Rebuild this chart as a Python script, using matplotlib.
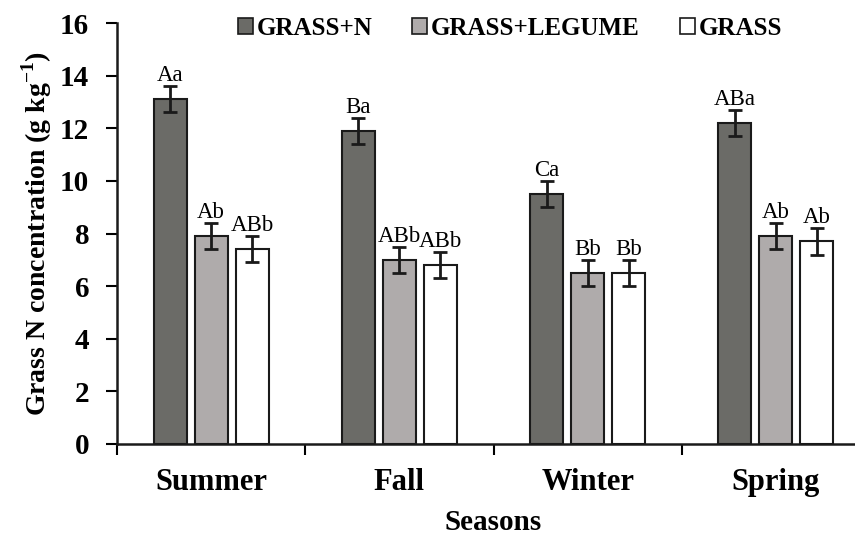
import matplotlib.pyplot as plt
from matplotlib.patches import Patch
import numpy as np

seasons = ['Summer', 'Fall', 'Winter', 'Spring']
treatments = ['GRASS+N', 'GRASS+LEGUME', 'GRASS']
grass_n = [13.1, 11.9, 9.5, 12.2]
grass_legume = [7.9, 7.0, 6.5, 7.9]
grass_only = [7.4, 6.8, 6.5, 7.7]
err_n = [0.5, 0.5, 0.5, 0.5]
err_legume = [0.5, 0.5, 0.5, 0.5]
err_grass = [0.5, 0.5, 0.5, 0.5]
lab_n = ['Aa', 'Ba', 'Ca', 'ABa']
lab_legume = ['Ab', 'ABb', 'Bb', 'Ab']
lab_grass = ['ABb', 'ABb', 'Bb', 'Ab']

plt.rcParams['font.family'] = 'Liberation Serif'
plt.rcParams['mathtext.fontset'] = 'custom'
plt.rcParams['mathtext.rm'] = 'Liberation Serif:bold'
plt.rcParams['mathtext.bf'] = 'Liberation Serif:bold'

fig = plt.figure(figsize=(8.55, 5.44), dpi=100)
ax = fig.add_axes([117/855, 100/544, 753/855, 421/544])

colors = ['#6b6b67', '#afabab', '#ffffff']
x = np.arange(len(seasons))
w = 0.175
off = 0.218
series = [(grass_n, err_n, lab_n), (grass_legume, err_legume, lab_legume), (grass_only, err_grass, lab_grass)]
for i, (vals, errs, labs) in enumerate(series):
    xs = x + (i - 1) * off
    ax.bar(xs, vals, width=w, color=colors[i], edgecolor='#1a1a1a', linewidth=1.5, zorder=2)
    ax.errorbar(xs, vals, yerr=errs, fmt='none', ecolor='#1a1a1a', elinewidth=2, capsize=5, capthick=2, zorder=3)
    for xx, v, e, t in zip(xs, vals, errs, labs):
        ax.annotate(t, (xx, v + e), xytext=(0, 0), textcoords='offset points',
                    ha='center', va='bottom', fontsize=16.5)

ax.set_xlim(-0.5, 3.5)
ax.set_ylim(0, 16)
ax.set_yticks(range(0, 17, 2))
ax.set_xticks([-0.5, 0.5, 1.5, 2.5, 3.5])
ax.set_xticklabels([])
ax.set_xticks(x, minor=True)
ax.set_xticklabels(seasons, minor=True)
ax.tick_params(axis='x', which='major', direction='out', length=8, width=1.5)
ax.tick_params(axis='x', which='minor', length=0, pad=17, labelsize=22)
ax.tick_params(axis='y', direction='out', length=8, width=1.5, labelsize=21, pad=12)
for lab in ax.get_xticklabels(minor=True) + ax.get_yticklabels():
    lab.set_fontweight('bold')
for s in ['top', 'right']:
    ax.spines[s].set_visible(False)
for s in ['left', 'bottom']:
    ax.spines[s].set_linewidth(1.8)
    ax.spines[s].set_color('#1a1a1a')

ax.set_ylabel('Grass N concentration (g kg$^{-1}$)', fontsize=20, fontweight='bold', labelpad=4)
fig.text(493/855, 21/544, 'Seasons', ha='center', va='center', fontsize=21, fontweight='bold')

handles = [Patch(facecolor=c, edgecolor='#1a1a1a', linewidth=1.2) for c in colors]
fig.legend(handles, treatments, loc='upper center', bbox_to_anchor=(510/855, 1.01), ncol=3,
           frameon=False, prop={'weight': 'bold', 'size': 18}, handlelength=0.6, handleheight=0.6,
           handletextpad=0.15, columnspacing=1.6)

fig.savefig('out.png', dpi=100)
